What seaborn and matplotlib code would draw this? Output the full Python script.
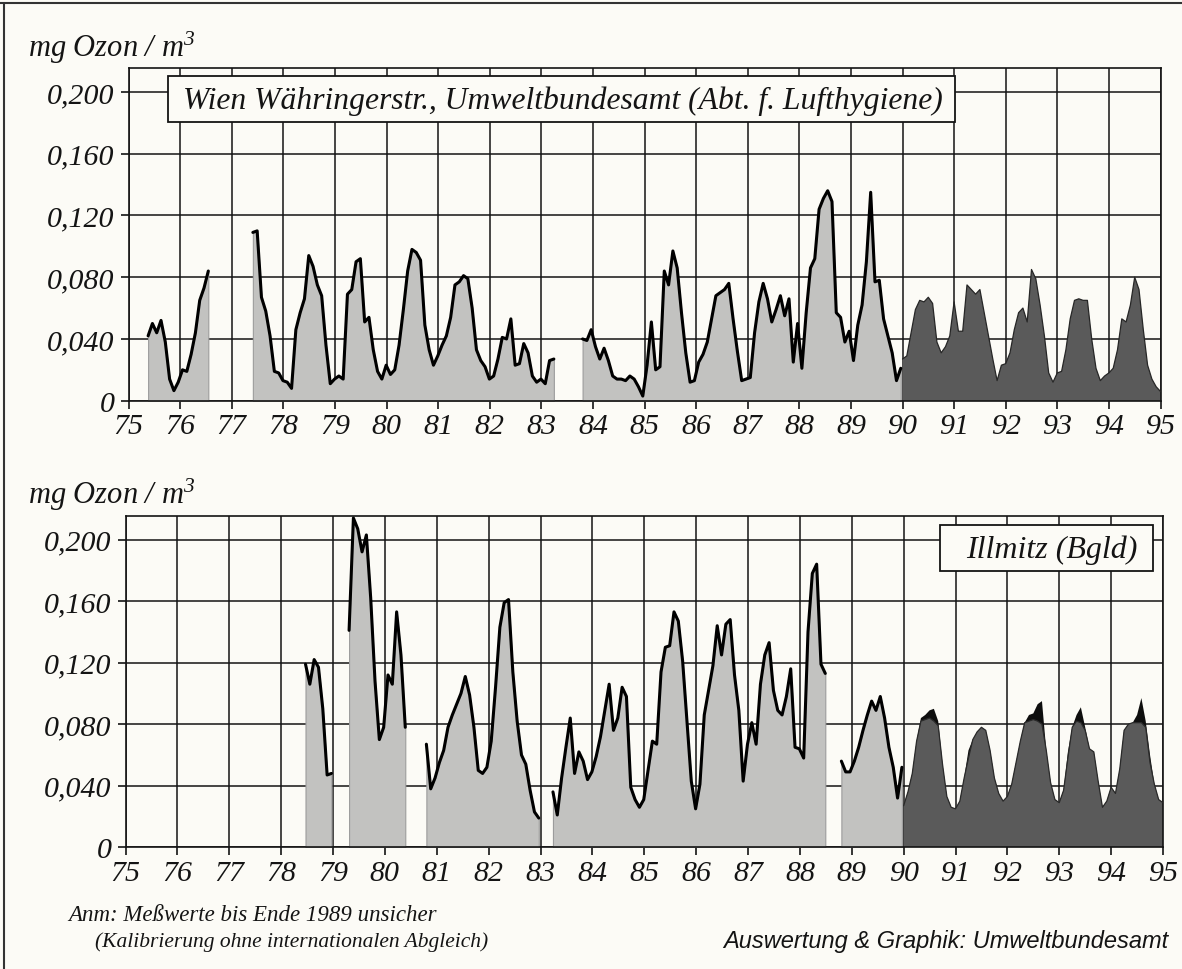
import numpy as np
import matplotlib
matplotlib.use("Agg")
import matplotlib.pyplot as plt
import seaborn as sns
from matplotlib.patches import Rectangle
from matplotlib.lines import Line2D

# ---------------- data (monthly means, mg Ozon / m3) ----------------
years = list(range(75, 96))
year_labels = [str(y) for y in years]
y_ticks = [0, 0.04, 0.08, 0.12, 0.16, 0.20]
y_tick_labels = ["0", "0,040", "0,080", "0,120", "0,160", "0,200"]

# Wien Währingerstr. -- segments before 1990 (start as decimal year)
wien_starts = [75.38, 77.41, 83.80]
wien_seg1 = [0.042, 0.050, 0.044, 0.052, 0.038, 0.014, 0.0065, 0.012, 0.020, 0.019,
             0.030, 0.044, 0.065, 0.073, 0.084]
wien_seg2 = [0.109, 0.110, 0.067, 0.058, 0.042, 0.019, 0.018, 0.013, 0.012, 0.008,
             0.046, 0.057, 0.066, 0.094, 0.087, 0.075, 0.068, 0.036, 0.011, 0.014,
             0.016, 0.014, 0.069, 0.072, 0.090, 0.092, 0.051, 0.054, 0.033, 0.019,
             0.014, 0.023, 0.017, 0.020, 0.036, 0.059, 0.084, 0.098, 0.096, 0.091,
             0.049, 0.033, 0.023, 0.029, 0.036, 0.042, 0.054, 0.075, 0.077, 0.081,
             0.079, 0.060, 0.033, 0.026, 0.022, 0.014, 0.016, 0.027, 0.041, 0.040,
             0.053, 0.023, 0.024, 0.037, 0.031, 0.016, 0.012, 0.014, 0.011, 0.026,
             0.027]
wien_seg3 = [0.040, 0.039, 0.046, 0.035, 0.027, 0.034, 0.026, 0.016, 0.014, 0.014,
             0.013, 0.016, 0.014, 0.009, 0.003, 0.023, 0.051, 0.020, 0.022, 0.084,
             0.075, 0.097, 0.086, 0.057, 0.031, 0.012, 0.013, 0.025, 0.030, 0.038,
             0.053, 0.068, 0.070, 0.072, 0.076, 0.053, 0.032, 0.013, 0.014, 0.015,
             0.044, 0.064, 0.076, 0.066, 0.051, 0.059, 0.068, 0.055, 0.066, 0.025,
             0.050, 0.021, 0.057, 0.086, 0.092, 0.124, 0.131, 0.136, 0.129, 0.057,
             0.054, 0.038, 0.045, 0.026, 0.049, 0.062, 0.090, 0.135, 0.077, 0.078,
             0.053, 0.042, 0.031, 0.013, 0.021]
# Wien from 1990 on
wien_90 = [0.027, 0.029, 0.044, 0.059, 0.065, 0.064, 0.067, 0.063, 0.038, 0.031,
           0.035, 0.042, 0.064, 0.045, 0.045, 0.075, 0.072, 0.069, 0.072, 0.057,
           0.042, 0.027, 0.013, 0.023, 0.024, 0.031, 0.046, 0.057, 0.060, 0.051,
           0.085, 0.079, 0.062, 0.042, 0.018, 0.012, 0.018, 0.019, 0.033, 0.053,
           0.065, 0.066, 0.065, 0.065, 0.040, 0.021, 0.013, 0.016, 0.018, 0.021,
           0.033, 0.053, 0.051, 0.062, 0.080, 0.072, 0.046, 0.023, 0.014, 0.009,
           0.006]

# Illmitz (Bgld) -- segments before 1990
ill_starts = [78.47, 79.31, 80.80, 83.24, 88.80]
ill_seg1 = [0.119, 0.106, 0.122, 0.117, 0.090, 0.047, 0.048]
ill_seg2 = [0.141, 0.214, 0.207, 0.192, 0.203, 0.162, 0.108, 0.070, 0.078, 0.112,
            0.106, 0.153, 0.125, 0.078]
ill_seg3 = [0.067, 0.038, 0.045, 0.055, 0.063, 0.078, 0.086, 0.093, 0.100, 0.111,
            0.099, 0.078, 0.050, 0.048, 0.052, 0.069, 0.104, 0.143, 0.159, 0.161,
            0.114, 0.082, 0.060, 0.054, 0.037, 0.023, 0.019]
ill_seg4 = [0.036, 0.021, 0.045, 0.065, 0.084, 0.048, 0.062, 0.056, 0.044, 0.049,
            0.059, 0.072, 0.089, 0.106, 0.076, 0.084, 0.104, 0.098, 0.039, 0.031,
            0.026, 0.031, 0.050, 0.069, 0.067, 0.114, 0.130, 0.131, 0.153, 0.147,
            0.121, 0.082, 0.043, 0.025, 0.041, 0.086, 0.102, 0.118, 0.144, 0.125,
            0.145, 0.148, 0.112, 0.089, 0.043, 0.067, 0.081, 0.067, 0.106, 0.125,
            0.133, 0.102, 0.089, 0.086, 0.098, 0.116, 0.065, 0.064, 0.058, 0.140,
            0.178, 0.184, 0.119, 0.113]
ill_seg5 = [0.056, 0.049, 0.049, 0.056, 0.065, 0.076, 0.086, 0.095, 0.089, 0.098,
            0.084, 0.065, 0.052, 0.032, 0.052]
# Illmitz from 1990 on: upper (black) and front (dark grey) series
ill_90_black = [0.027, 0.036, 0.048, 0.069, 0.084, 0.086, 0.089, 0.090, 0.082, 0.054,
                0.033, 0.026, 0.025, 0.030, 0.045, 0.063, 0.070, 0.075, 0.078, 0.076,
                0.063, 0.045, 0.035, 0.030, 0.033, 0.041, 0.055, 0.069, 0.081, 0.086,
                0.087, 0.093, 0.095, 0.063, 0.042, 0.031, 0.029, 0.037, 0.062, 0.078,
                0.086, 0.091, 0.078, 0.064, 0.062, 0.043, 0.026, 0.030, 0.039, 0.035,
                0.051, 0.076, 0.080, 0.081, 0.086, 0.097, 0.082, 0.060, 0.041, 0.031,
                0.029]
ill_90_grey = [0.027, 0.036, 0.048, 0.069, 0.082, 0.083, 0.084, 0.082, 0.079, 0.054,
               0.033, 0.026, 0.025, 0.030, 0.045, 0.058, 0.070, 0.075, 0.078, 0.076,
               0.063, 0.045, 0.035, 0.030, 0.033, 0.041, 0.055, 0.069, 0.081, 0.082,
               0.083, 0.082, 0.080, 0.063, 0.042, 0.031, 0.029, 0.037, 0.058, 0.078,
               0.082, 0.081, 0.076, 0.064, 0.062, 0.043, 0.026, 0.030, 0.039, 0.035,
               0.051, 0.076, 0.080, 0.081, 0.081, 0.081, 0.078, 0.055, 0.041, 0.031,
               0.029]

title_top = "Wien Währingerstr., Umweltbundesamt (Abt. f. Lufthygiene)"
title_bot = "Illmitz (Bgld)"
unit_label = "mg Ozon / m$^{3}$"
note1 = "Anm: Meßwerte bis Ende 1989 unsicher"
note2 = "(Kalibrierung ohne internationalen Abgleich)"
credit = "Auswertung & Graphik: Umweltbundesamt"

# ---------------- styling ----------------
W, H = 1182, 970
BG = "#fcfbf6"
LIGHT = "#c2c2c0"
DARK = "#5a5a5a"
INK = "#141414"

sns.set_theme(style="white")
plt.rcParams["font.family"] = ["Liberation Serif", "DejaVu Serif"]
plt.rcParams["font.style"] = "italic"
plt.rcParams["mathtext.fontset"] = "custom"
plt.rcParams["mathtext.it"] = "Liberation Serif:italic"
plt.rcParams["mathtext.rm"] = "Liberation Serif:italic"
plt.rcParams["mathtext.default"] = "it"

fig = plt.figure(figsize=(W / 100, H / 100), dpi=100)
fig.patch.set_facecolor(BG)


def px_axes(x0, y0, x1, y1):
    return fig.add_axes([x0 / W, 1 - y1 / H, (x1 - x0) / W, (y1 - y0) / H])


def months(start, n):
    return start + np.arange(n) / 12.0


def style_axes(ax):
    ax.set_facecolor(BG)
    ax.set_xlim(75, 95)
    ax.set_ylim(0, 0.2155)
    ax.set_xticks(years)
    ax.set_xticklabels(year_labels)
    ax.set_yticks(y_ticks)
    ax.set_yticklabels(y_tick_labels)
    ax.set_axisbelow(True)
    ax.grid(True, color=INK, lw=1.1)
    for s in ax.spines.values():
        s.set_visible(True)
        s.set_color(INK)
        s.set_linewidth(1.2)
    ax.tick_params(axis="both", which="both", direction="out", length=6, width=1.2,
                   color=INK, labelsize=21.5, labelcolor=INK,
                   bottom=True, left=True)
    ax.tick_params(axis="x", pad=3)
    ax.tick_params(axis="y", pad=4)
    ax.set_xlabel("")
    ax.set_ylabel("")


def draw_light(ax, start, vals):
    x = months(start, len(vals))
    ax.fill_between(x, 0, vals, facecolor=LIGHT, edgecolor="#9c9c9c", lw=0.8, zorder=2)
    sns.lineplot(x=x, y=vals, ax=ax, color="black", lw=2.2, zorder=3,
                 legend=False, sort=False, estimator=None)


ax_top = px_axes(128.5, 69, 1160.5, 401.7)
ax_bot = px_axes(125.5, 516.7, 1163, 848.3)

# top panel
for st, seg in zip(wien_starts, [wien_seg1, wien_seg2, wien_seg3]):
    draw_light(ax_top, st, seg)
x90 = months(90.0, len(wien_90))
ax_top.fill_between(x90, 0, wien_90, facecolor=DARK, edgecolor="none", zorder=2)
sns.lineplot(x=x90, y=wien_90, ax=ax_top, color="#262626", lw=0.9, zorder=3,
             legend=False, sort=False, estimator=None)
style_axes(ax_top)

# bottom panel
for st, seg in zip(ill_starts, [ill_seg1, ill_seg2, ill_seg3, ill_seg4, ill_seg5]):
    draw_light(ax_bot, st, seg)
x90b = months(90.0, len(ill_90_black))
ax_bot.fill_between(x90b, 0, ill_90_black, facecolor="#0e0e0e", edgecolor="none", zorder=2)
ax_bot.fill_between(x90b, 0, ill_90_grey, facecolor=DARK, edgecolor="none", zorder=2.1)
sns.lineplot(x=x90b, y=ill_90_grey, ax=ax_bot, color="#2a2a2a", lw=0.9, zorder=3,
             legend=False, sort=False, estimator=None)
style_axes(ax_bot)

# unit labels
fig.text(28 / W, 1 - 48 / H, unit_label, fontsize=22, ha="left", va="center", color=INK)
fig.text(28 / W, 1 - 495 / H, unit_label, fontsize=22, ha="left", va="center", color=INK)


# title boxes
def px_box(x0, y0, x1, y1):
    r = Rectangle((x0 / W, 1 - y1 / H), (x1 - x0) / W, (y1 - y0) / H,
                  transform=fig.transFigure, facecolor=BG, edgecolor=INK, lw=1.3,
                  zorder=5)
    fig.add_artist(r)


px_box(168, 77, 955, 123)
fig.text(183 / W, 1 - 101 / H, title_top, fontsize=22.8, ha="left", va="center",
         color=INK, zorder=6)
px_box(940, 526, 1153, 572)
fig.text(1051.5 / W, 1 - 550 / H, title_bot, fontsize=23, ha="center", va="center",
         color=INK, zorder=6)

# footer
fig.text(68 / W, 1 - 916 / H, note1, fontsize=16.5, ha="left", va="center", color=INK)
fig.text(95 / W, 1 - 942 / H, note2, fontsize=15.5, ha="left", va="center", color=INK)
fig.text(1168 / W, 1 - 942 / H, credit, fontsize=17, ha="right", va="center",
         color=INK, family=["Liberation Sans", "DejaVu Sans"], style="italic")

# page border (scan frame)
fig.add_artist(Line2D([0, 1], [1 - 4 / H, 1 - 4 / H], transform=fig.transFigure,
                      color="#333333", lw=1.5))
fig.add_artist(Line2D([4 / W, 4 / W], [0, 1 - 4 / H], transform=fig.transFigure,
                      color="#333333", lw=1.5))

fig.savefig("out.png", dpi=100, facecolor=BG)
